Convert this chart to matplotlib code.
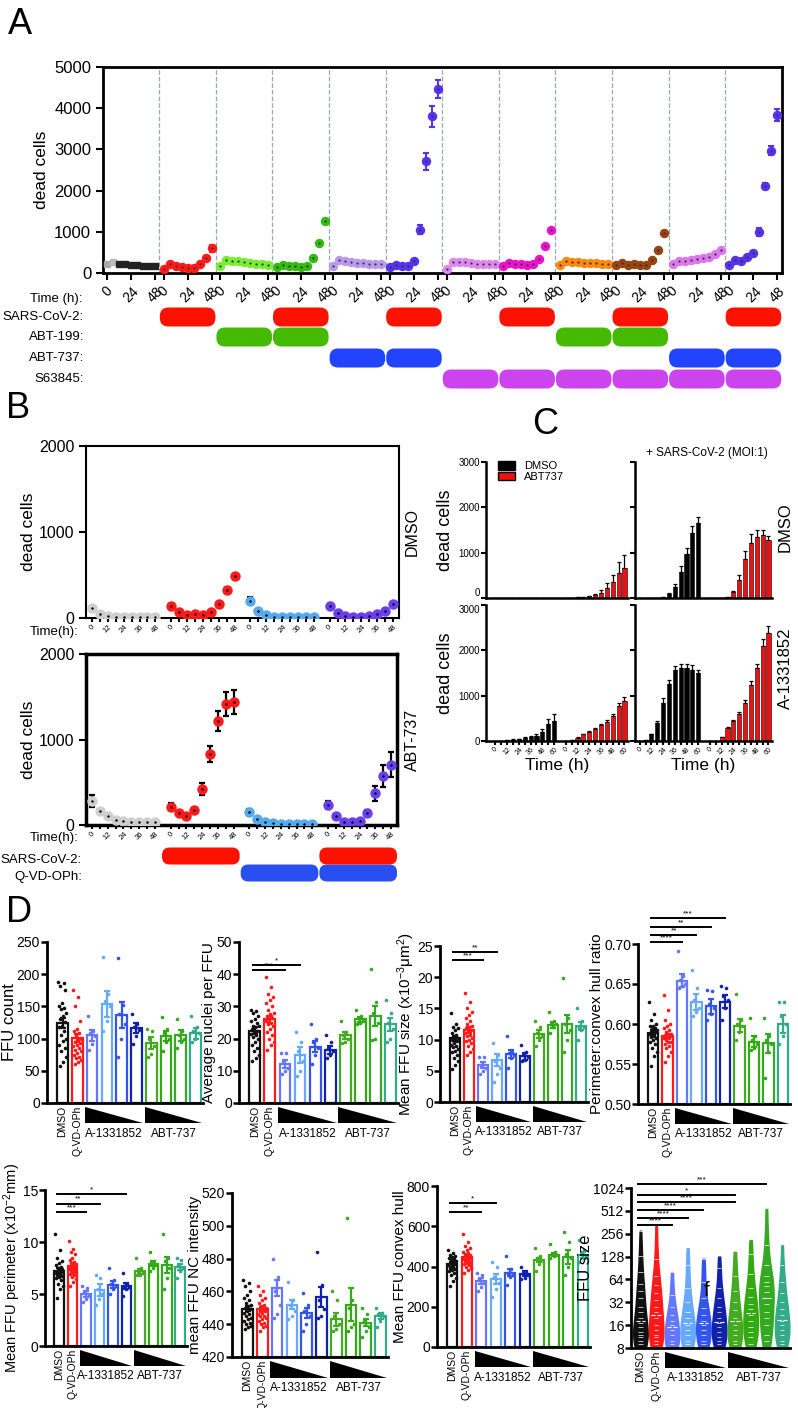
import numpy as np
import matplotlib
matplotlib.use("Agg")
import matplotlib.pyplot as plt
from matplotlib.patches import FancyBboxPatch, Polygon, Patch
import matplotlib.transforms as mtransforms

plt.rcParams['font.family'] = ['Liberation Sans', 'DejaVu Sans']
plt.rcParams['axes.linewidth'] = 1.8
plt.rcParams['xtick.major.width'] = 1.5
plt.rcParams['ytick.major.width'] = 1.5
plt.rcParams['mathtext.fontset'] = 'custom'
plt.rcParams['mathtext.rm'] = 'Liberation Sans'
plt.rcParams['mathtext.it'] = 'Liberation Sans:italic'

# ======================= DATA =======================
# ---- Panel A ----
A_time = [0, 6, 12, 18, 24, 30, 36, 42, 48]
A_ticks = [0, 24, 48]
A_dmso = [211, 260, 227, 227, 203, 187, 179, 170, 162]
A_sars = [100, 230, 170, 145, 115, 130, 230, 375, 595]
A_abt199 = [162, 308, 292, 292, 260, 244, 227, 211, 203]
A_sars_abt199 = [146, 203, 170, 162, 146, 170, 365, 731, 1267]
A_abt737 = [170, 308, 292, 276, 252, 235, 227, 227, 227]
A_sars_abt737 = [146, 203, 162, 170, 292, 1055, 2711, 3799, 4465]
A_s63845 = [105, 268, 268, 276, 244, 227, 227, 211, 211]
A_sars_s63845 = [162, 244, 211, 211, 187, 211, 349, 658, 1055]
A_abt199_s63845 = [187, 292, 268, 260, 244, 244, 235, 227, 227]
A_sars_abt199_s63845 = [187, 244, 203, 211, 195, 195, 308, 568, 974]
A_abt737_s63845 = [227, 284, 292, 325, 341, 357, 390, 455, 568]
A_sars_abt737_s63845 = [187, 308, 292, 390, 487, 999, 2112, 2973, 3833]
A_err_sars_abt737 = [20, 20, 20, 20, 30, 100, 200, 250, 220]
A_err_sars_abt737_s63845 = [20, 20, 20, 30, 40, 100, 80, 100, 150]
A_err_sars = [20, 30, 20, 15, 15, 15, 25, 40, 90]
A_row_sars = [0, 1, 0, 1, 0, 1, 0, 1, 0, 1, 0, 1]
A_row_abt199 = [0, 0, 1, 1, 0, 0, 0, 0, 1, 1, 0, 0]
A_row_abt737 = [0, 0, 0, 0, 1, 1, 0, 0, 0, 0, 1, 1]
A_row_s63845 = [0, 0, 0, 0, 0, 0, 1, 1, 1, 1, 1, 1]
A_row_labels = ['SARS-CoV-2:', 'ABT-199:', 'ABT-737:', 'S63845:']
A_colors = ['#222222', '#ff1a1a', '#77ee33', '#33bb11', '#bb99ee', '#5533ee',
            '#dd88ee', '#ee11cc', '#ff8811', '#994411', '#dd77ee', '#5533ee']

# ---- Panel B ----
B_time = [0, 6, 12, 18, 24, 30, 36, 42, 48]
B_dmso_mock = [115, 50, 20, 12, 10, 10, 10, 10, 10]
B_dmso_sars = [140, 65, 40, 45, 40, 65, 165, 325, 485]
B_dmso_qvd = [200, 80, 30, 15, 10, 8, 8, 8, 8]
B_dmso_sars_qvd = [135, 55, 20, 15, 15, 20, 45, 85, 165]
B_dmso_err = [[15, 8, 5, 3, 3, 3, 3, 3, 3], [20, 12, 8, 8, 8, 10, 15, 25, 30],
              [40, 12, 6, 4, 3, 3, 3, 3, 3], [15, 8, 5, 4, 4, 4, 6, 10, 15]]
B_abt_mock = [285, 165, 100, 60, 50, 40, 35, 35, 30]
B_abt_sars = [215, 135, 105, 170, 420, 830, 1215, 1415, 1440]
B_abt_qvd = [155, 65, 30, 20, 15, 12, 12, 12, 12]
B_abt_sars_qvd = [235, 100, 35, 30, 50, 145, 370, 575, 705]
B_abt_err = [[70, 20, 10, 8, 8, 5, 5, 5, 5], [45, 20, 20, 20, 70, 90, 120, 140, 140],
             [35, 12, 8, 5, 5, 3, 3, 3, 3], [45, 15, 10, 10, 10, 30, 90, 125, 145]]
B_row_sars = [0, 1, 0, 1]
B_row_qvd = [0, 0, 1, 1]
B_colors = ['#cfcfcf', '#ff1a1a', '#55aaee', '#6a3ff0']

# ---- Panel C ----
C_time = [0, 6, 12, 18, 24, 30, 36, 42, 48, 54, 60]
C_mock_dmso_k = [0, 0, 0, 0, 0, 2, 3, 3, 5, 5, 5]
C_mock_dmso_k_err = [0, 0, 0, 0, 0, 1, 1, 1, 2, 2, 2]
C_mock_dmso_r = [5, 8, 12, 20, 40, 70, 120, 230, 350, 550, 670]
C_mock_dmso_r_err = [2, 3, 4, 6, 10, 20, 50, 100, 150, 240, 280]
C_cov_dmso_k = [0, 0, 0, 0, 20, 80, 240, 573, 963, 1433, 1660]
C_cov_dmso_k_err = [0, 0, 0, 0, 10, 20, 60, 130, 130, 150, 130]
C_cov_dmso_r = [0, 0, 0, 20, 125, 404, 860, 1220, 1345, 1380, 1290]
C_cov_dmso_r_err = [0, 0, 0, 10, 30, 100, 180, 200, 160, 120, 80]
C_mock_a13_k = [0, 5, 15, 25, 40, 70, 90, 120, 195, 365, 440]
C_mock_a13_k_err = [0, 5, 5, 10, 10, 15, 20, 40, 70, 130, 150]
C_mock_a13_r = [0, 20, 75, 145, 205, 270, 345, 430, 550, 770, 880]
C_mock_a13_r_err = [0, 5, 10, 15, 15, 20, 20, 30, 45, 70, 100]
C_cov_a13_k = [0, 20, 146, 387, 832, 1255, 1562, 1606, 1606, 1577, 1504]
C_cov_a13_k_err = [0, 5, 15, 50, 110, 100, 90, 90, 90, 90, 70]
C_cov_a13_r = [0, 5, 88, 292, 438, 600, 840, 1235, 1606, 2090, 2375]
C_cov_a13_r_err = [0, 3, 10, 20, 30, 50, 70, 90, 100, 150, 170]

# ---- Panel D ----
D_labels = ['DMSO', 'Q-VD-OPh']
D_groups = ['A-1331852', 'ABT-737']
D_colors = ['#111111', '#ff1a1a', '#6677ff', '#66aaff', '#3355ee', '#1122aa',
            '#44aa22', '#33aa11', '#33aa22', '#33aa88']

D1_means = [124, 101, 105, 154, 137, 116, 93, 104, 105, 108]
D1_sems = [8, 6, 8, 20, 20, 8, 9, 8, 8, 8]
D1_dots = [[188, 186, 182, 176, 155, 150, 148, 146, 140, 135, 130, 126, 120, 118, 112, 106, 100, 96, 90, 86, 80, 72, 64, 57],
           [175, 165, 150, 128, 115, 112, 108, 104, 100, 98, 95, 93, 90, 88, 85, 82, 80, 78, 75, 72, 70, 67, 63, 60],
           [135, 112, 108, 104, 92, 82], [226, 170, 158, 150, 128, 112], [225, 152, 138, 122, 100, 72],
           [138, 122, 118, 114, 104, 92], [115, 112, 100, 88, 76, 72], [133, 115, 108, 100, 95, 80],
           [130, 112, 105, 100, 95, 85], [135, 118, 112, 108, 100, 95]]

D2_means = [22.5, 26, 12, 15, 17.5, 16.5, 21, 26, 27, 24.5]
D2_sems = [1, 1, 1.2, 2.5, 1.8, 1.2, 1, 0.8, 3.2, 2]
D2_dots = [[29, 28.5, 28, 27, 26, 25.5, 25, 24, 24, 23.5, 23, 22.5, 22, 21.5, 21, 20.5, 20, 19, 18, 17, 16, 15, 14, 13],
           [39, 36, 34, 33, 32, 31, 30, 29, 28, 27.5, 27, 26.5, 26, 25.5, 25, 24.5, 24, 23, 22, 21, 20, 19, 18, 16.5],
           [15.5, 15.5, 13, 11, 10, 9], [22, 19, 16, 13, 10, 8.5], [24.5, 20, 19, 17, 15, 12],
           [21, 19, 17, 16, 15, 14], [25.5, 22, 21, 20, 19, 18.5], [29, 27, 26.5, 25.5, 25, 24.5],
           [41.5, 31.5, 28, 25, 20, 19.5], [32, 28, 25, 23, 20, 19]]

D3_means = [10.2, 11.5, 5.9, 6.7, 7.7, 7.3, 10.9, 12.4, 12.5, 12.2]
D3_sems = [0.45, 0.5, 0.5, 1.0, 0.7, 0.5, 0.7, 0.5, 1.5, 0.7]
D3_dots = [[14.3, 12.5, 12, 11.8, 11.5, 11, 10.8, 10.5, 10.3, 10, 10, 9.8, 9.5, 9.2, 9, 8.8, 8.5, 8.2, 8, 7.5, 7, 6.5, 6, 5.3],
           [17.5, 16, 15, 14.5, 14, 13.5, 13, 12.5, 12.2, 12, 11.8, 11.5, 11.2, 11, 10.8, 10.5, 10.2, 10, 9.8, 9.5, 9, 8.5, 8, 7.5],
           [7.2, 7.2, 6, 5.5, 5, 4.5], [9.5, 7.5, 6.5, 5.5, 4.5, 3.2], [10.5, 8, 7.8, 7.5, 7, 5.5],
           [9.2, 8, 7.5, 7.2, 6.8, 6.5], [13, 12, 11, 10.5, 10, 9], [14.5, 13, 12.5, 12.5, 12, 11],
           [19.8, 13.5, 12.5, 11.5, 10, 8], [15, 13, 12, 12, 11.5, 10]]

D4_means = [0.589, 0.585, 0.654, 0.627, 0.622, 0.628, 0.598, 0.578, 0.576, 0.600]
D4_sems = [0.003, 0.003, 0.008, 0.010, 0.009, 0.008, 0.008, 0.007, 0.012, 0.011]
D4_dots = [[0.628, 0.612, 0.605, 0.600, 0.598, 0.597, 0.595, 0.594, 0.593, 0.592, 0.590, 0.590, 0.588, 0.587, 0.585, 0.584, 0.582, 0.580, 0.578, 0.575, 0.570, 0.565, 0.560, 0.548],
           [0.636, 0.617, 0.605, 0.600, 0.597, 0.595, 0.593, 0.590, 0.588, 0.587, 0.586, 0.585, 0.584, 0.583, 0.582, 0.580, 0.578, 0.577, 0.575, 0.573, 0.570, 0.565, 0.560, 0.552],
           [0.691, 0.660, 0.655, 0.650, 0.648, 0.645], [0.667, 0.645, 0.630, 0.620, 0.615, 0.610],
           [0.643, 0.641, 0.625, 0.620, 0.612, 0.605], [0.647, 0.645, 0.635, 0.630, 0.620, 0.605],
           [0.637, 0.605, 0.600, 0.597, 0.590, 0.580], [0.608, 0.585, 0.580, 0.575, 0.570, 0.567],
           [0.608, 0.585, 0.580, 0.575, 0.565, 0.532], [0.627, 0.627, 0.610, 0.600, 0.585, 0.575]]

D5_means = [7.2, 7.7, 5.0, 5.4, 5.9, 5.8, 7.2, 7.9, 7.8, 7.6]
D5_sems = [0.3, 0.25, 0.25, 0.55, 0.35, 0.3, 0.25, 0.25, 0.75, 0.3]
D5_dots = [[10.8, 9.2, 8.5, 8.2, 8.0, 7.8, 7.6, 7.5, 7.4, 7.3, 7.2, 7.1, 7.0, 7.0, 6.9, 6.8, 6.7, 6.6, 6.5, 6.3, 6.0, 5.8, 5.5, 4.6],
           [10.1, 9.3, 9.0, 8.8, 8.5, 8.3, 8.1, 8.0, 7.9, 7.8, 7.7, 7.6, 7.5, 7.4, 7.3, 7.2, 7.1, 7.0, 6.9, 6.8, 6.6, 6.4, 6.2, 5.8],
           [5.8, 5.6, 5.2, 4.8, 4.5, 4.2], [6.8, 6.5, 5.5, 5.0, 4.5, 3.9], [7.5, 6.3, 6.0, 5.8, 5.5, 5.0],
           [7.0, 6.0, 5.8, 5.7, 5.5, 4.8], [8.5, 7.5, 7.2, 7.0, 6.8, 6.8], [9.0, 8.2, 8.0, 7.8, 7.5, 7.2],
           [10.8, 8.5, 8.2, 7.5, 6.5, 5.5], [8.5, 8.3, 7.8, 7.5, 7.2, 6.5]]

D6_means = [449.5, 449, 462, 452, 447, 456.5, 443, 452, 441, 445]
D6_sems = [1.5, 1.2, 5, 3, 3, 6, 4, 10, 2, 2]
D6_dots = [[467, 465, 463, 460, 458, 456, 455, 453, 452, 451, 450, 449, 448, 447, 446, 445, 444, 443, 442, 441, 440, 439, 438, 437],
           [463, 460, 458, 456, 455, 453, 452, 451, 450, 449, 448, 448, 447, 446, 445, 445, 444, 443, 442, 441, 440, 439, 438, 436],
           [480, 469, 460, 452, 446, 444], [466, 455, 452, 448, 445, 443], [459, 452, 448, 445, 440, 436],
           [484, 464, 455, 449, 445, 444], [460, 455, 445, 440, 437, 436], [505, 455, 450, 440, 438, 436],
           [450, 446, 442, 438, 436, 432], [450, 447, 446, 445, 442, 438]]

D7_means = [410, 445, 330, 340, 370, 365, 432, 458, 447, 455]
D7_sems = [10, 10, 15, 25, 18, 12, 12, 8, 35, 15]
D7_dots = [[480, 465, 455, 450, 445, 440, 435, 430, 425, 420, 415, 412, 410, 405, 400, 395, 390, 385, 380, 370, 360, 345, 330, 305],
           [560, 520, 500, 490, 480, 470, 465, 460, 455, 450, 445, 440, 438, 435, 430, 425, 420, 415, 410, 405, 400, 395, 385, 370],
           [370, 360, 340, 320, 300, 280], [420, 400, 350, 320, 290, 250], [450, 390, 370, 360, 350, 310],
           [400, 375, 370, 360, 345, 340], [490, 450, 440, 430, 410, 380], [510, 470, 460, 455, 450, 440],
           [570, 520, 460, 440, 400, 360], [530, 480, 460, 450, 440, 420]]

D8_sizes = [[8, 8, 8, 9, 9, 9, 10, 10, 11, 11, 12, 12, 13, 14, 15, 16, 17, 18, 20, 22, 24, 26, 28, 32, 36, 40, 45, 50, 56, 64, 80, 100, 130, 180, 280],
            [8, 8, 9, 9, 10, 10, 11, 12, 12, 13, 14, 15, 16, 18, 20, 22, 24, 26, 28, 30, 34, 38, 42, 48, 54, 60, 70, 90, 120, 180, 330],
            [8, 8, 8, 9, 9, 10, 10, 11, 12, 13, 14, 15, 16, 17, 18, 20, 22, 25, 28, 32, 40, 55, 80],
            [8, 8, 9, 9, 10, 11, 12, 13, 14, 15, 16, 18, 20, 22, 24, 28, 32, 40, 50, 70, 100, 165],
            [8, 8, 9, 9, 10, 11, 12, 13, 14, 15, 16, 17, 18, 20, 22, 24, 27, 30, 36, 45, 60, 85, 120],
            [8, 8, 9, 9, 10, 10, 11, 12, 13, 14, 15, 16, 17, 18, 20, 22, 24, 26, 28, 32, 36, 42, 50, 64, 90, 128],
            [8, 8, 9, 9, 10, 11, 12, 13, 14, 15, 16, 18, 20, 22, 25, 28, 32, 38, 45, 55, 70, 100, 150],
            [8, 8, 9, 10, 11, 12, 13, 14, 15, 16, 18, 20, 22, 24, 26, 28, 30, 34, 38, 44, 50, 60, 75, 100, 140, 210],
            [8, 9, 10, 11, 12, 14, 16, 18, 20, 22, 24, 27, 30, 33, 36, 40, 44, 48, 52, 56, 60, 64, 70, 80, 100, 130, 180, 260, 550],
            [8, 8, 9, 9, 10, 11, 12, 13, 14, 15, 16, 17, 18, 20, 22, 24, 26, 28, 32, 36, 42, 50, 60, 75, 100, 180]]
D8_ticks = [8, 16, 32, 64, 128, 256, 512, 1024]

D2_sig = [(3, 42.9, '*'), (2, 41.2, '***')]
D3_sig = [(3, 24.1, '**'), (2, 22.7, '***')]
D4_sig = [(5, 0.7326, '***'), (4, 0.7213, '**'), (3, 0.7117, '**'), (2, 0.7021, '****')]
D5_sig = [(5, 14.6, '*'), (3, 13.7, '**'), (2, 12.85, '***')]
D7_sig = [(3, 714, '*'), (2, 669, '**')]
D8_sig = [(8, 1155, '***'), (6, 835, '*'), (6, 663, '****'), (4, 519, '****'), (3, 410, '****'), (2, 335, '****')]

# ======================= FIGURE =======================
W, H = 798, 1408
fig = plt.figure(figsize=(W / 100, H / 100), dpi=100)


def rect(l, t, r, b):
    return [l / W, 1 - b / H, (r - l) / W, (b - t) / H]


ov = fig.add_axes([0, 0, 1, 1], zorder=10)
ov.set_xlim(0, W)
ov.set_ylim(H, 0)
ov.axis('off')
ov.patch.set_alpha(0)


def to_px(ax, x, y=0):
    d = ax.transData.transform((x, y))
    return d[0], H - d[1]


def pill(x0, x1, yc, h, color):
    ov.add_patch(FancyBboxPatch((x0, yc - h / 2), x1 - x0, h,
                                boxstyle=f"round,pad=0,rounding_size={h * 0.45}",
                                fc=color, ec='none'))


def ftext(x, y, s, **kw):
    fig.text(x / W, 1 - y / H, s, **kw)


# Panel letters
ftext(8, 24, 'A', fontsize=26, va='center')
ftext(6, 408, 'B', fontsize=26, va='center')
ftext(532, 425, 'C', fontsize=26, va='center')
ftext(6, 912, 'D', fontsize=26, va='center')

# ---------------- Panel A ----------------
P = 56.5
axA = fig.add_axes(rect(103, 67, 782, 273))
A_groups = [A_dmso, A_sars, A_abt199, A_sars_abt199, A_abt737, A_sars_abt737,
            A_s63845, A_sars_s63845, A_abt199_s63845, A_sars_abt199_s63845,
            A_abt737_s63845, A_sars_abt737_s63845]
A_errs = {1: A_err_sars, 5: A_err_sars_abt737, 11: A_err_sars_abt737_s63845}
for g, vals in enumerate(A_groups):
    xs = g * P + np.array(A_time)
    err = A_errs.get(g, [15] * 9)
    col = A_colors[g]
    if g == 0:
        axA.errorbar(xs, vals, yerr=err, fmt='none', ecolor='#333333', lw=1, capsize=1.5, zorder=2)
        cols = ['#aaaaaa', '#bbbbbb'] + ['#222222'] * 7
        for x, v, c in zip(xs, vals, cols):
            axA.plot(x, v, 's', ms=4.5, color=c, zorder=3)
    else:
        axA.errorbar(xs, vals, yerr=err, fmt='none', ecolor=col, lw=1.5, capsize=2, capthick=1.5, zorder=2)
        axA.plot(xs, vals, 'o', ms=5.8, color=col, mec=col, zorder=3)
        axA.plot(xs, vals, '.', ms=1.2, color='#333333', zorder=4)
    if g > 0:
        axA.axvline(g * P - 4.25, color='#9aabab', ls='--', lw=0.9, zorder=1)
axA.set_xlim(-4, 12 * P - 4)
axA.set_ylim(0, 5000)
axA.set_yticks([0, 1000, 2000, 3000, 4000, 5000])
axA.tick_params(axis='y', labelsize=12, length=5, direction='out')
tks = [g * P + t for g in range(12) for t in A_ticks]
axA.set_xticks(tks)
axA.set_xticklabels([str(t) for g in range(12) for t in A_ticks], rotation=45, fontsize=10)
axA.tick_params(axis='x', length=5, direction='out', pad=3)
axA.set_ylabel('dead cells', fontsize=12.5, labelpad=4)
for s in axA.spines.values():
    s.set_linewidth(2)
ftext(82, 299, 'Time (h):', fontsize=9.5, ha='right', va='center')

A_rows = [A_row_sars, A_row_abt199, A_row_abt737, A_row_s63845]
A_row_cols = ['#ff1100', '#44bb00', '#2244ff', '#cc44ee']
A_row_y = [317, 337, 358, 379]
for r, (row, col, yc, lab) in enumerate(zip(A_rows, A_row_cols, A_row_y, A_row_labels)):
    ftext(84, yc, lab, fontsize=9.5, ha='right', va='center')
    for g, on in enumerate(row):
        if on:
            x0, _ = to_px(axA, g * P - 4.25)
            x1, _ = to_px(axA, g * P + 52.25)
            pill(x0 + 0.5, x1 - 0.5, yc, 19, col)

# ---------------- Panel B ----------------
BP = 60


def panel_b(rc, groups, errs, boxlw):
    ax = fig.add_axes(rect(*rc))
    for g, vals in enumerate(groups):
        xs = g * BP + np.array(B_time)
        ax.errorbar(xs, vals, yerr=errs[g], fmt='none', ecolor='black', lw=1.6,
                    capsize=2.5, capthick=1.6, zorder=2)
        ax.plot(xs, vals, 'o', ms=6.5, color=B_colors[g], zorder=3)
        ax.plot(xs, vals, '.', ms=1.5, color='black', zorder=4)
    ax.set_xlim(-4.6, 3 * BP + 52.6)
    ax.set_ylim(0, 2000)
    ax.set_yticks([0, 1000, 2000])
    ax.tick_params(axis='y', labelsize=11.5, length=5)
    ticks = [g * BP + t for g in range(4) for t in B_time]
    ax.set_xticks(ticks)
    ax.set_xticklabels([str(t) if t % 12 == 0 else '' for g in range(4) for t in B_time],
                       rotation=45, fontsize=5.5)
    ax.tick_params(axis='x', length=3, pad=1)
    ax.set_ylabel('dead cells', fontsize=12.5, labelpad=2)
    for s in ax.spines.values():
        s.set_linewidth(boxlw)
    return ax


axB1 = panel_b((86, 446, 399, 618), [B_dmso_mock, B_dmso_sars, B_dmso_qvd, B_dmso_sars_qvd],
               B_dmso_err, 1.5)
axB2 = panel_b((86, 654, 397, 825), [B_abt_mock, B_abt_sars, B_abt_qvd, B_abt_sars_qvd],
               B_abt_err, 2.5)
ftext(412, 532, 'DMSO', fontsize=11.5, rotation=90, ha='center', va='center')
ftext(412, 740, 'ABT-737', fontsize=11.5, rotation=90, ha='center', va='center')
ftext(78, 632, 'Time(h):', fontsize=9.5, ha='right', va='center')
ftext(78, 838, 'Time(h):', fontsize=9.5, ha='right', va='center')
ftext(82, 860, 'SARS-CoV-2:', fontsize=9.5, ha='right', va='center')
ftext(82, 877, 'Q-VD-OPh:', fontsize=9.5, ha='right', va='center')
for g in range(4):
    x0, _ = to_px(axB2, g * BP - 7)
    x1, _ = to_px(axB2, g * BP + 53)
    if B_row_qvd[g]:
        pill(x0 + 0.5, x1 - 0.5, 873, 17, '#2a4ff0')
for g in range(4):
    x0, _ = to_px(axB2, g * BP - 7)
    x1, _ = to_px(axB2, g * BP + 53)
    if B_row_sars[g]:
        pill(x0 + 0.5, x1 - 0.5, 856, 17, '#ff1100')

# ---------------- Panel C ----------------
slots_k = np.arange(11)
slots_r = np.arange(11) + 12


def panel_c(rc, k, kerr, r, rerr, left, bottom):
    ax = fig.add_axes(rect(*rc))
    ax.bar(slots_k, k, width=0.7, color='black', edgecolor='black', lw=0.4, zorder=2)
    ax.errorbar(slots_k, k, yerr=[np.zeros(11), kerr], fmt='none', ecolor='black',
                lw=0.9, capsize=1.5, capthick=0.9, zorder=1)
    ax.bar(slots_r, r, width=0.7, color='#ee1111', edgecolor='black', lw=0.4, zorder=2)
    ax.errorbar(slots_r, r, yerr=[np.zeros(11), rerr], fmt='none', ecolor='black',
                lw=0.9, capsize=1.5, capthick=0.9, zorder=1)
    ax.set_ylim(0, 3000)
    ax.set_xlim(-1.6 if left else -0.8, 22.6)
    ax.set_yticks([0, 1000, 2000, 3000])
    ax.spines['top'].set_visible(False)
    ax.spines['right'].set_visible(False)
    ax.tick_params(axis='y', labelsize=7, length=3.5, pad=1, labelleft=left)
    if left:
        labs = ax.get_yticklabels()
        if bottom:
            labs[-1].set_va('top')
        else:
            labs[0].set_va('bottom')
    if bottom:
        ticks = list(slots_k) + list(slots_r)
        ax.set_xticks(ticks)
        ax.set_xticklabels([str(t) if t % 12 == 0 else '' for t in C_time] * 2,
                           rotation=45, fontsize=5)
        ax.tick_params(axis='x', length=3, pad=0.5)
        ax.set_xlabel('Time (h)', fontsize=12.5, labelpad=1)
    else:
        ax.set_xticks([])
    if left:
        ax.set_ylabel('dead cells', fontsize=13, labelpad=3)
    return ax


axC1 = panel_c((486, 462, 628, 598), C_mock_dmso_k, C_mock_dmso_k_err, C_mock_dmso_r, C_mock_dmso_r_err, True, False)
axC2 = panel_c((635, 462, 772, 598), C_cov_dmso_k, C_cov_dmso_k_err, C_cov_dmso_r, C_cov_dmso_r_err, False, False)
axC3 = panel_c((486, 605, 628, 741), C_mock_a13_k, C_mock_a13_k_err, C_mock_a13_r, C_mock_a13_r_err, True, True)
axC4 = panel_c((635, 605, 772, 741), C_cov_a13_k, C_cov_a13_k_err, C_cov_a13_r, C_cov_a13_r_err, False, True)
axC1.legend(handles=[Patch(fc='black', ec='black', label='DMSO'),
                     Patch(fc='#ee1111', ec='black', label='ABT737')],
            loc='upper left', bbox_to_anchor=(0.05, 1.04), frameon=False, fontsize=8,
            handlelength=1.6, handleheight=0.8, labelspacing=0.05, borderaxespad=0)
ftext(707, 453, '+ SARS-CoV-2 (MOI:1)', fontsize=8.5, ha='center', va='center')
ftext(785, 527, 'DMSO', fontsize=12, rotation=90, ha='center', va='center')
ftext(785, 668, 'A-1331852', fontsize=12, rotation=90, ha='center', va='center')

# ---------------- Panel D ----------------
def offsets(n):
    if n <= 1:
        return np.zeros(n)
    return (((np.arange(n) * 0.618034) % 1.0) - 0.5) * 0.56


def d_common(ax, ylabel, ylsize=11):
    ax.spines['top'].set_visible(False)
    ax.spines['right'].set_visible(False)
    ax.spines['left'].set_linewidth(2)
    ax.spines['bottom'].set_linewidth(2)
    ax.set_xticks([0, 1])
    ax.set_xticklabels(D_labels, rotation=90, fontsize=7.5)
    ax.tick_params(axis='x', length=0, pad=2)
    ax.tick_params(axis='y', labelsize=10, length=4, width=1.8, pad=1)
    ax.set_ylabel(ylabel, fontsize=ylsize, labelpad=0)
    tr = mtransforms.blended_transform_factory(ax.transData, ax.transAxes)
    for (a, b), lab in zip([(2, 5), (6, 9)], D_groups):
        ax.add_patch(Polygon([[a - 0.45, -0.025], [a - 0.45, -0.125], [b + 0.45, -0.125]],
                             closed=True, transform=tr, clip_on=False, fc='black', ec='none'))
        ax.text((a + b) / 2, -0.19, lab, transform=tr, ha='center', va='center', fontsize=8.5)


def d_sig(ax, sig, logy=False):
    for xe, y, st in sig:
        yy = np.log2(y) if logy else y
        ax.plot([-0.15, xe], [yy, yy], color='black', lw=1.4, clip_on=False, zorder=5)
        ax.annotate(st, ((xe - 0.15) / 2, yy), xytext=(0, 0.5), textcoords='offset points',
                    ha='center', va='bottom', fontsize=6, annotation_clip=False)


def d_bar(rc, means, sems, dots, ylim, yticks, ylabel, sig, fmt=None, ylsize=11):
    ax = fig.add_axes(rect(*rc))
    for i in range(10):
        c = D_colors[i]
        ax.bar(i, means[i] - ylim[0], bottom=ylim[0], width=0.72, fc='white', ec=c, lw=1.6, zorder=2)
        ax.errorbar(i, means[i], yerr=sems[i], color=c, capsize=2.5, lw=1.6, capthick=1.6, zorder=3)
        d = np.array(dots[i])
        ax.plot(i + offsets(len(d)), d, 'o', ms=2.6, color=c, mec='none', zorder=4, clip_on=False)
    ax.set_xlim(-1.05, 9.5)
    ax.set_ylim(*ylim)
    ax.set_yticks(yticks)
    if fmt:
        ax.set_yticklabels([fmt.format(t) for t in yticks])
    d_common(ax, ylabel, ylsize)
    d_sig(ax, sig)
    return ax


d_bar((47, 942, 203, 1103), D1_means, D1_sems, D1_dots, (0, 250), [0, 50, 100, 150, 200, 250],
      'FFU count', [], ylsize=12)
d_bar((239, 942, 398, 1103), D2_means, D2_sems, D2_dots, (0, 50), [0, 10, 20, 30, 40, 50],
      'Average nuclei per FFU', D2_sig)
d_bar((440, 946, 588, 1102), D3_means, D3_sems, D3_dots, (0, 25), [0, 5, 10, 15, 20, 25],
      r'Mean FFU size (x10$^{-3}$μm$^{2}$)', D3_sig)
d_bar((638, 944, 790, 1104), D4_means, D4_sems, D4_dots, (0.5, 0.7), [0.5, 0.55, 0.6, 0.65, 0.7],
      'Perimeter:convex hull ratio', D4_sig, fmt='{:.2f}')
d_bar((45, 1190, 187, 1346), D5_means, D5_sems, D5_dots, (0, 15), [0, 5, 10, 15],
      r'Mean FFU perimeter (x10$^{-2}$mm)', D5_sig, ylsize=10.5)
d_bar((232, 1193, 388, 1357), D6_means, D6_sems, D6_dots, (420, 520), [420, 440, 460, 480, 500, 520],
      'mean FFU NC intensity', [])
d_bar((437, 1186, 590, 1347), D7_means, D7_sems, D7_dots, (0, 800), [0, 200, 400, 600, 800],
      'Mean FFU convex hull', D7_sig)

# violin panel
axV = fig.add_axes(rect(631, 1188, 790, 1348))
logdata = [np.log2(np.array(v, dtype=float)) for v in D8_sizes]
parts = axV.violinplot(logdata, positions=np.arange(10), widths=0.92, showextrema=False,
                       bw_method=0.45)
for i, b in enumerate(parts['bodies']):
    b.set_facecolor(D_colors[i])
    b.set_edgecolor(D_colors[i])
    b.set_alpha(1)
    b.set_zorder(2)
for i, ld in enumerate(logdata):
    axV.hlines(ld[::2], i - 0.14, i + 0.14, color='white', lw=0.5, zorder=3)
    axV.hlines(np.median(ld), i - 0.3, i + 0.3, color='white', lw=0.8, ls='--', zorder=3)
axV.set_xlim(-0.6, 9.5)
axV.set_ylim(3, 10)
axV.set_yticks(np.log2(D8_ticks))
axV.set_yticklabels([str(t) for t in D8_ticks])
d_common(axV, 'FFU size', 12)
d_sig(axV, D8_sig, logy=True)
ftext(707, 1290, 'f', fontsize=15, ha='center', va='center')

fig.savefig('out.png', dpi=100)
